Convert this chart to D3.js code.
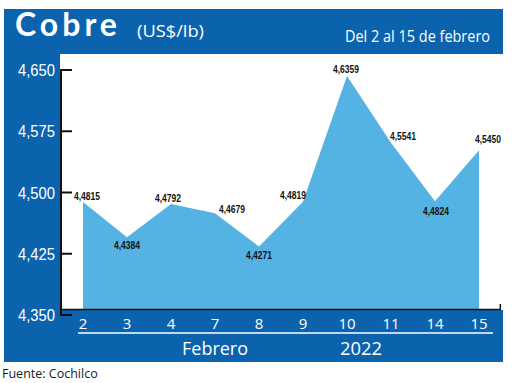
<!DOCTYPE html>
<html><head><meta charset="utf-8">
<script src="https://cdn.jsdelivr.net/npm/d3@7/dist/d3.min.js"></script>
<style>
html,body{margin:0;padding:0;background:#fff;}
svg{display:block;}
</style></head>
<body>
<svg id="chart" width="520" height="383"></svg>
<script>
const days = ["2","3","4","7","8","9","10","11","14","15"];
const values = [4.4815,4.4384,4.4792,4.4679,4.4271,4.4819,4.6359,4.5541,4.4824,4.5450];
const yTicks = [4.350,4.425,4.500,4.575,4.650];
const yTickLabels = ["4,350","4,425","4,500","4,575","4,650"];
const title = "Cobre";
const unit = "(US$/lb)";
const period = "Del 2 al 15 de febrero";
const monthLabel = "Febrero";
const yearLabel = "2022";
const source = "Fuente: Cochilco";
// label placement (offset of label centre relative to point)
const labelPlace = [[4,-6],[0,8],[-3,-6],[17,-4],[0,8],[-10,-7],[-1,-7],[12,-7],[1,10],[9,-11]];

const fmt = v => d3.format(".4f")(v).replace(".", ",");
const svg = d3.select("#chart");
const BLUE = "#0b63ad", LIGHT = "#55b3e3";
const SANS = "Liberation Sans, Arial, sans-serif";

svg.append("rect").attr("x",4).attr("y",9).attr("width",499).attr("height",353).attr("fill",BLUE);
svg.append("rect").attr("x",60).attr("y",54).attr("width",460).attr("height",256).attr("fill","#fff");

const x = d3.scalePoint().domain(days).range([83,479]);
const y = d3.scaleLinear().domain([4.35,4.65]).range([309.5,64.5]);
const yAx = d3.scaleLinear().domain([4.35,4.65]).range([315,70]);

const area = d3.area().x((d,i)=>x(days[i])).y0(y(4.35)).y1(d=>y(d)).curve(d3.curveLinear);
svg.append("path").datum(values).attr("d",area).attr("fill",LIGHT);

// axes lines
svg.append("line").attr("x1",61).attr("x2",61).attr("y1",yAx(4.65)-1).attr("y2",yAx(4.35)+1)
  .attr("stroke","#111").attr("stroke-width",2);
svg.selectAll(".yt").data(yTicks).join("line").attr("x1",61).attr("x2",72)
  .attr("y1",d=>yAx(d)).attr("y2",d=>yAx(d)).attr("stroke","#111").attr("stroke-width",2);
svg.append("line").attr("x1",61).attr("x2",501).attr("y1",309.5).attr("y2",309.5)
  .attr("stroke","#111").attr("stroke-width",1.5);
svg.append("line").attr("x1",500.3).attr("x2",500.3).attr("y1",304).attr("y2",310)
  .attr("stroke","#111").attr("stroke-width",1.5);

// y tick labels
svg.selectAll(".yl").data(yTicks).join("text")
  .attr("x",55).attr("y",d=>yAx(d)+6).attr("text-anchor","end")
  .attr("fill","#fff").attr("font-family",SANS)
  .attr("font-size",17).attr("textLength",37).attr("lengthAdjust","spacingAndGlyphs")
  .text((d,i)=>yTickLabels[i]);

// value labels
svg.selectAll(".vl").data(values).join("text")
  .attr("x",(d,i)=>x(days[i])+labelPlace[i][0]-13)
  .attr("y",(d,i)=>y(d)+labelPlace[i][1]+4)
  .attr("fill","#111")
  .attr("font-family",SANS)
  .attr("font-size",11).attr("font-weight","bold")
  .attr("textLength",26).attr("lengthAdjust","spacingAndGlyphs").text(d=>fmt(d));

// x labels
svg.selectAll(".xl").data(days).join("text")
  .attr("x",d=>x(d)).attr("y",329).attr("text-anchor","middle")
  .attr("fill","#fff").attr("font-family","Open Sans, sans-serif")
  .attr("font-size",15).text(d=>d);
svg.append("line").attr("x1",78).attr("x2",493).attr("y1",333).attr("y2",333)
  .attr("stroke","#fff").attr("stroke-width",1.3);
svg.append("text").attr("x",215).attr("y",355).attr("text-anchor","middle").attr("fill","#fff")
  .attr("font-family","Open Sans, sans-serif").attr("font-size",19)
  .attr("textLength",66).attr("lengthAdjust","spacingAndGlyphs").text(monthLabel);
svg.append("text").attr("x",361).attr("y",355).attr("text-anchor","middle").attr("fill","#fff")
  .attr("font-family","Open Sans, sans-serif").attr("font-size",19)
  .attr("textLength",42).attr("lengthAdjust","spacingAndGlyphs").text(yearLabel);

// header
svg.append("text").attr("x",15).attr("y",36).attr("fill","#fff")
  .attr("font-family","Lato, sans-serif").attr("font-weight","bold")
  .attr("font-size",32).attr("letter-spacing",4).text(title);
svg.append("text").attr("x",137).attr("y",37).attr("fill","#fff")
  .attr("font-family","Open Sans, sans-serif").attr("font-size",17)
  .attr("textLength",67).attr("lengthAdjust","spacingAndGlyphs").text(unit);
svg.append("text").attr("x",345).attr("y",42).attr("fill","#fff")
  .attr("font-family","Open Sans, sans-serif").attr("font-size",17)
  .attr("textLength",145).attr("lengthAdjust","spacingAndGlyphs").text(period);

svg.append("text").attr("x",2).attr("y",378).attr("fill","#1a1a1a")
  .attr("font-family","Open Sans, sans-serif").attr("font-size",12.5).text(source);
</script>
</body></html>
